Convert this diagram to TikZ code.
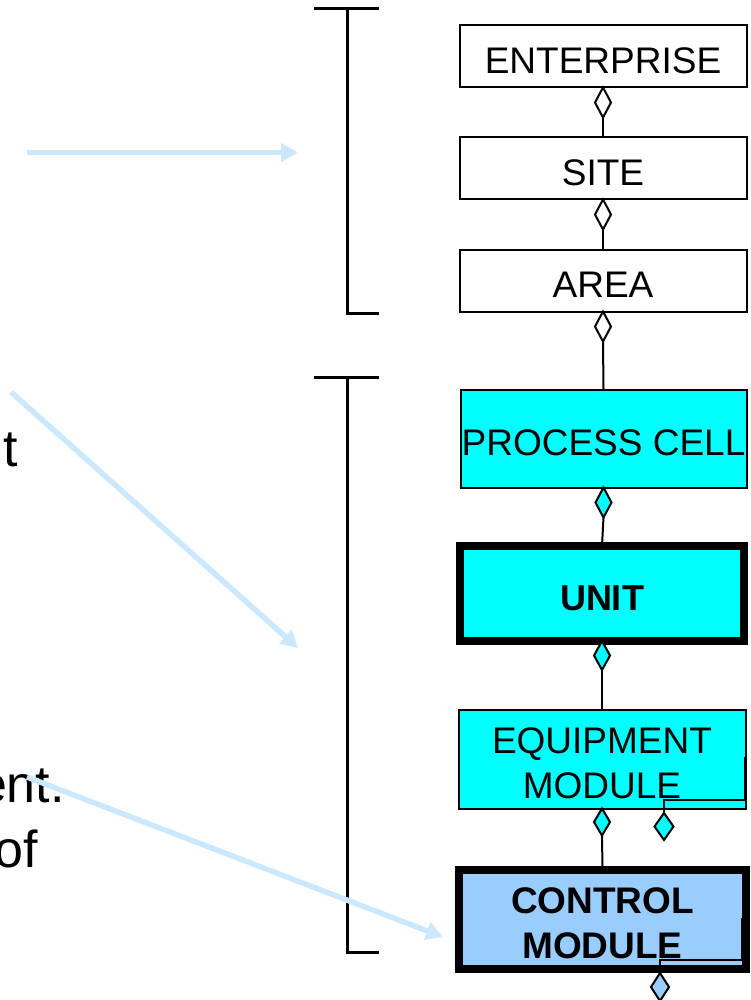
\documentclass[tikz,border=0pt]{standalone}
\usepackage{fontspec}
\setmainfont{Liberation Sans}
\usetikzlibrary{shapes.geometric,arrows.meta}
\definecolor{cellcyan}{HTML}{00FFFF}
\definecolor{ctrlblue}{HTML}{99CCFF}
\definecolor{pointer}{HTML}{CCE8FF}

\begin{document}
\begin{tikzpicture}[x=1pt,y=-1pt,
  level/.style={draw=black, line width=2pt, rectangle, minimum width=287pt,
    inner sep=0pt, outer sep=0pt, text height=34pt,
    font=\fontsize{37}{45}\selectfont, align=center},
  twoline/.style={text height=78.5pt},
  keylevel/.style={level, line width=8pt, minimum width=284pt, font=\fontsize{36}{45}\selectfont\bfseries},
  agg/.style={diamond, draw=black, line width=2pt, fill=white, minimum width=16pt,
    minimum height=30pt, inner sep=0pt, outer sep=0pt},
  link/.style={draw=black, line width=2pt},
  bracket/.style={draw=black, line width=3pt},
  pointer/.style={draw=pointer, line width=5.5pt,
    -{Triangle[length=17pt,width=18pt]}},
  frag/.style={inner sep=0pt, font=\fontsize{52}{60}\selectfont}
]
\useasboundingbox (0,0) rectangle (751,1000);

% hierarchy levels
\node[level, minimum height=62pt] (ent) at (603,56.5) {ENTERPRISE};
\node[level, minimum height=62pt] (site) at (603,168.5) {SITE};
\node[level, minimum height=62pt] (area) at (603,280.5) {AREA};
\node[level, fill=cellcyan, minimum width=286pt, minimum height=98pt] (cell) at (603.5,438.5) {PROCESS CELL};
\node[keylevel, fill=cellcyan, minimum height=95pt] (unit) at (602,593.5) {UNIT};
\node[level, twoline, fill=cellcyan, minimum height=99pt] (equip) at (602,759) {EQUIPMENT\\MODULE};
\node[keylevel, twoline, fill=ctrlblue, minimum width=287pt, minimum height=99pt, font=\fontsize{37}{45}\selectfont\bfseries] (ctrl) at (602.5,919) {CONTROL\\MODULE};

% aggregation diamonds and links
\node[agg, anchor=north] (d1) at (ent.south) {};
\draw[link] (d1.south) -- (site.north);
\node[agg, anchor=north] (d2) at (site.south) {};
\draw[link] (d2.south) -- (area.north);
\node[agg, anchor=north] (d3) at (area.south) {};
\draw[link] (d3.south) -- (cell.north);
\node[agg, fill=cellcyan, anchor=north] (d4) at (cell.south) {};
\draw[link] (d4.south) -- (unit.north);
\node[agg, fill=cellcyan, anchor=north, minimum height=29pt] (d5) at (unit.south) {};
\draw[link] (d5.south) -- (equip.north);
\node[agg, fill=cellcyan, anchor=north, minimum height=27pt] (d6) at (equip.south) {};
\draw[link] (d6.south) -- (ctrl.north);

% recursive aggregation of equipment modules
\node[agg, fill=cellcyan, minimum width=19pt, minimum height=27pt, anchor=north] (eqside) at (664,813) {};
\coordinate (eqbend) at (745,800);
\coordinate (eqend) at (745,757);
\draw[link] (eqside.north) |- (eqbend) -- (eqend);

% recursive aggregation of control modules
\node[agg, fill=ctrlblue, minimum width=18pt, minimum height=28pt, anchor=north] (ctside) at (660,973) {};
\coordinate (ctbend) at (742,960);
\coordinate (ctend) at (742,918);
\draw[link] (ctside.north) |- (ctbend) -- (ctend);

% grouping brackets
\draw[bracket] (314,9) -- (379,9);
\draw[bracket] (347,9) -- (347,313) -- (379,313);
\draw[bracket] (314,377) -- (379,377);
\draw[bracket] (347,377) -- (347,952) -- (379,952);

% text fragments at the left edge
\node[frag, anchor=base east] (f1) at (18,466) {t};
\node[frag, anchor=base east] (f2) at (65,802) {ent.};
\node[frag, anchor=base east] (f3) at (38,867) {of};

% pointers
\coordinate (p1s) at (27,152.5);
\coordinate (p1e) at (298,152.5);
\draw[pointer] (p1s) -- (p1e);
\coordinate (p2s) at (11,392);
\coordinate (p2e) at (298,648);
\draw[pointer] (p2s) -- (p2e);
\coordinate (p3s) at (27,777);
\coordinate (p3e) at (443,937);
\draw[pointer] (p3s) -- (p3e);
\end{tikzpicture}
\end{document}
